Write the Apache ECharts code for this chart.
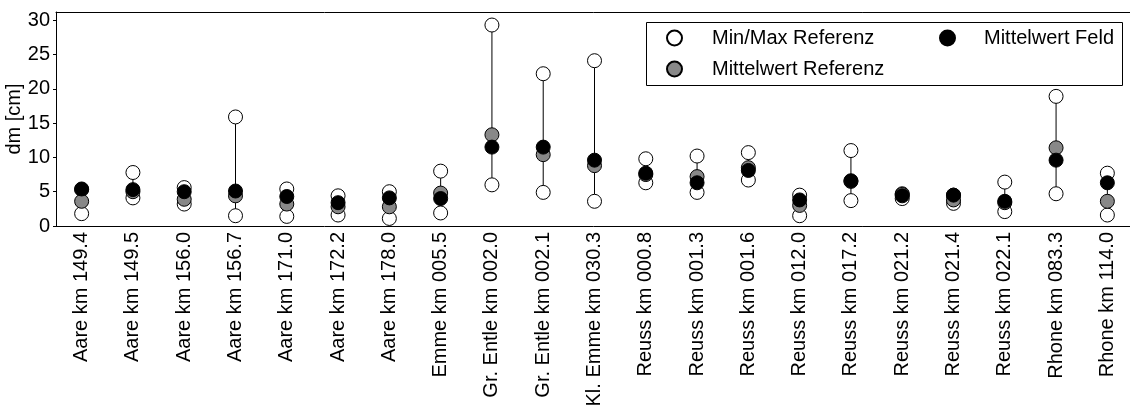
<!DOCTYPE html>
<html>
<head>
<meta charset="utf-8">
<script src="https://cdn.jsdelivr.net/npm/echarts@6/dist/echarts.min.js"></script>
<style>
  html, body { margin: 0; padding: 0; background: #fff; }
  #chart { width: 1130px; height: 405px; }
</style>
</head>
<body>
<div id="chart"></div>
<script>
// Messstellen
const categories = [
    'Aare km 149.4', 'Aare km 149.5', 'Aare km 156.0', 'Aare km 156.7', 'Aare km 171.0',
    'Aare km 172.2', 'Aare km 178.0', 'Emme km 005.5', 'Gr. Entle km 002.0', 'Gr. Entle km 002.1',
    'Kl. Emme km 030.3', 'Reuss km 000.8', 'Reuss km 001.3', 'Reuss km 001.6', 'Reuss km 012.0',
    'Reuss km 017.2', 'Reuss km 021.2', 'Reuss km 021.4', 'Reuss km 022.1', 'Rhone km 083.3',
    'Rhone km 114.0'
]

// dm [cm]
const minReferenz = [1.8, 4.1, 3.2, 1.5, 1.4, 1.6, 1.1, 1.9, 6.0, 4.9, 3.6, 6.3, 4.9, 6.7, 1.5, 3.7, 4.0, 3.3, 2.1, 4.7, 1.6]
const maxReferenz = [5.3, 7.8, 5.6, 15.9, 5.4, 4.4, 5.0, 8.0, 29.3, 22.2, 24.1, 9.8, 10.2, 10.7, 4.5, 11.0, 4.7, 4.5, 6.4, 18.9, 7.7]
const mittelReferenz = [3.6, 5.0, 3.9, 4.4, 3.2, 2.8, 2.8, 4.8, 13.3, 10.4, 8.8, 7.5, 7.2, 8.5, 3.0, 6.5, 4.6, 3.8, 3.4, 11.4, 3.6]
const mittelFeld = [5.4, 5.3, 5.0, 5.1, 4.3, 3.4, 4.1, 4.0, 11.5, 11.5, 9.6, 7.7, 6.3, 8.1, 3.8, 6.6, 4.4, 4.5, 3.6, 9.6, 6.3]

const yTicks = [0, 5, 10, 15, 20, 25, 30]

const font = 'Liberation Sans, Arial, Helvetica, sans-serif'

const chart = echarts.init(document.getElementById('chart'))

const option = {
    animation: false,
    backgroundColor: '#fff',
    textStyle: { fontFamily: font, color: '#000' },
    grid: {
        left: 56,
        top: 12,
        width: 1077,
        height: 214,
        containLabel: false,
        outerBoundsMode: 'none'
    },
    graphic: [{
        type: 'rect',
        z: 3,
        shape: { x: 646.5, y: 22.5, width: 476, height: 63 },
        style: { fill: '#fff', stroke: '#000', lineWidth: 1 }
    }],
    legend: [{
        data: ['Min/Max Referenz', 'Mittelwert Referenz'],
        orient: 'vertical',
        left: 666,
        top: 28,
        padding: 0,
        itemWidth: 15,
        itemHeight: 15,
        itemGap: 11,
        z: 5,
        textStyle: { fontSize: 20, fontFamily: font, color: '#000', padding: [0, 0, 0, 25] }
    }, {
        data: ['Mittelwert Feld'],
        orient: 'vertical',
        left: 939,
        top: 28,
        padding: 0,
        itemWidth: 15,
        itemHeight: 15,
        z: 5,
        textStyle: { fontSize: 20, fontFamily: font, color: '#000', padding: [0, 0, 0, 24] }
    }],
    xAxis: [{
        type: 'category',
        data: categories,
        boundaryGap: true,
        axisLine: { lineStyle: { color: '#000', width: 1 } },
        axisTick: { alignWithLabel: true, length: 3, lineStyle: { color: '#000' } },
        axisLabel: {
            interval: 0,
            rotate: 90,
            margin: 6,
            fontSize: 20,
            fontFamily: font,
            color: '#000'
        },
        splitLine: { show: false }
    }, {
        type: 'category',
        data: categories,
        position: 'top',
        boundaryGap: true,
        axisLine: { lineStyle: { color: '#000', width: 1 } },
        axisTick: { alignWithLabel: true, inside: true, length: 3, lineStyle: { color: '#000' } },
        axisLabel: { show: false },
        splitLine: { show: false }
    }],
    yAxis: {
        type: 'value',
        min: 0,
        max: 31.2,
        interval: 5,
        name: 'dm [cm]',
        nameLocation: 'middle',
        nameGap: 32,
        nameMoveOverlap: false,
        nameTextStyle: { fontSize: 20, fontFamily: font, color: '#000' },
        axisLine: { show: true, lineStyle: { color: '#000', width: 1 } },
        axisTick: { show: true, length: 3, lineStyle: { color: '#000' } },
        axisLabel: {
            margin: 6,
            fontSize: 20,
            fontFamily: font,
            color: '#000',
            showMaxLabel: false,
            formatter: v => yTicks.indexOf(v) >= 0 ? String(v) : ''
        },
        splitLine: { show: false }
    },
    series: [{
        name: 'Spannweite',
        type: 'custom',
        z: 1,
        data: categories.map((c, i) => [i, minReferenz[i], maxReferenz[i]]),
        encode: { x: 0, y: [1, 2] },
        renderItem: (params, api) => {
            const p1 = api.coord([api.value(0), api.value(1)])
            const p2 = api.coord([api.value(0), api.value(2)])
            return {
                type: 'line',
                shape: { x1: p1[0], y1: p1[1], x2: p2[0], y2: p2[1] },
                style: { stroke: '#000', lineWidth: 1 }
            }
        }
    }, {
        name: 'Min/Max Referenz',
        type: 'scatter',
        z: 2,
        symbol: 'circle',
        symbolSize: 14,
        itemStyle: { color: '#fff', borderColor: '#000', borderWidth: 1, opacity: 1 },
        data: categories.map((c, i) => [i, minReferenz[i]])
            .concat(categories.map((c, i) => [i, maxReferenz[i]]))
    }, {
        name: 'Mittelwert Referenz',
        type: 'scatter',
        z: 2,
        symbol: 'circle',
        symbolSize: 14,
        itemStyle: { color: '#888', borderColor: '#000', borderWidth: 1, opacity: 1 },
        data: categories.map((c, i) => [i, mittelReferenz[i]])
    }, {
        name: 'Mittelwert Feld',
        type: 'scatter',
        z: 2,
        symbol: 'circle',
        symbolSize: 14,
        itemStyle: { color: '#000', borderColor: '#000', borderWidth: 1, opacity: 1 },
        data: categories.map((c, i) => [i, mittelFeld[i]])
    }]
}

chart.setOption(option)
</script>
</body>
</html>
